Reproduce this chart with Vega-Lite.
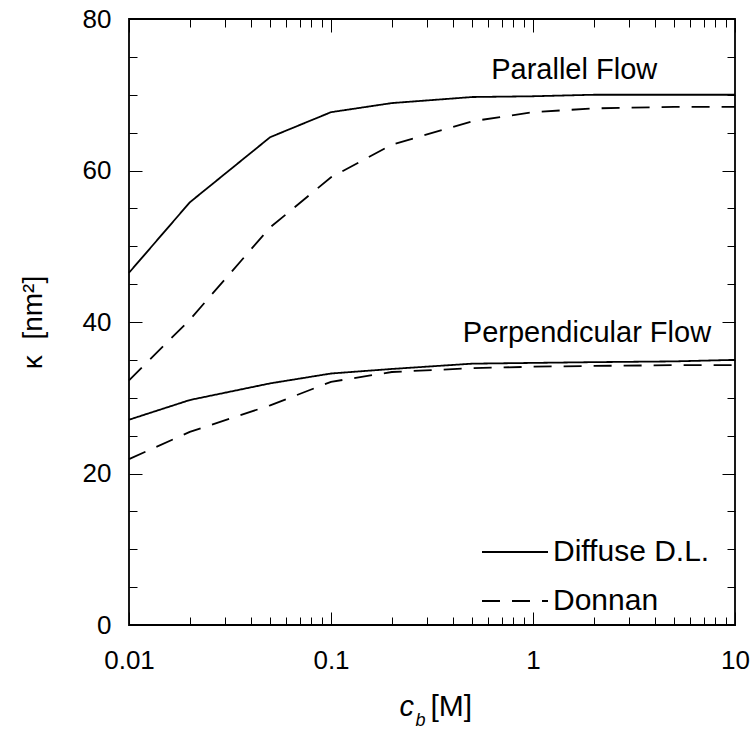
{
  "$schema": "https://vega.github.io/schema/vega-lite/v6.json",
  "width": 606,
  "height": 606,
  "autosize": {"type": "none"},
  "padding": {"left": 129, "top": 19, "right": 16, "bottom": 112},
  "background": "white",
  "config": {
    "font": "Liberation Sans",
    "view": {"stroke": "black", "strokeWidth": 1.8}
  },
  "data": {"values": [
    {"cb": 0.01, "kappa": 46.5, "flow": "Parallel", "model": "Diffuse D.L."},
    {"cb": 0.02, "kappa": 55.8, "flow": "Parallel", "model": "Diffuse D.L."},
    {"cb": 0.05, "kappa": 64.4, "flow": "Parallel", "model": "Diffuse D.L."},
    {"cb": 0.1, "kappa": 67.7, "flow": "Parallel", "model": "Diffuse D.L."},
    {"cb": 0.2, "kappa": 68.9, "flow": "Parallel", "model": "Diffuse D.L."},
    {"cb": 0.5, "kappa": 69.7, "flow": "Parallel", "model": "Diffuse D.L."},
    {"cb": 1, "kappa": 69.8, "flow": "Parallel", "model": "Diffuse D.L."},
    {"cb": 2, "kappa": 70.0, "flow": "Parallel", "model": "Diffuse D.L."},
    {"cb": 5, "kappa": 70.0, "flow": "Parallel", "model": "Diffuse D.L."},
    {"cb": 10, "kappa": 70.0, "flow": "Parallel", "model": "Diffuse D.L."},
    {"cb": 0.01, "kappa": 32.3, "flow": "Parallel", "model": "Donnan"},
    {"cb": 0.02, "kappa": 40.3, "flow": "Parallel", "model": "Donnan"},
    {"cb": 0.05, "kappa": 52.5, "flow": "Parallel", "model": "Donnan"},
    {"cb": 0.1, "kappa": 59.1, "flow": "Parallel", "model": "Donnan"},
    {"cb": 0.2, "kappa": 63.4, "flow": "Parallel", "model": "Donnan"},
    {"cb": 0.5, "kappa": 66.5, "flow": "Parallel", "model": "Donnan"},
    {"cb": 1, "kappa": 67.7, "flow": "Parallel", "model": "Donnan"},
    {"cb": 2, "kappa": 68.2, "flow": "Parallel", "model": "Donnan"},
    {"cb": 5, "kappa": 68.4, "flow": "Parallel", "model": "Donnan"},
    {"cb": 10, "kappa": 68.4, "flow": "Parallel", "model": "Donnan"},
    {"cb": 0.01, "kappa": 27.1, "flow": "Perpendicular", "model": "Diffuse D.L."},
    {"cb": 0.02, "kappa": 29.7, "flow": "Perpendicular", "model": "Diffuse D.L."},
    {"cb": 0.05, "kappa": 31.9, "flow": "Perpendicular", "model": "Diffuse D.L."},
    {"cb": 0.1, "kappa": 33.2, "flow": "Perpendicular", "model": "Diffuse D.L."},
    {"cb": 0.2, "kappa": 33.8, "flow": "Perpendicular", "model": "Diffuse D.L."},
    {"cb": 0.5, "kappa": 34.5, "flow": "Perpendicular", "model": "Diffuse D.L."},
    {"cb": 1, "kappa": 34.6, "flow": "Perpendicular", "model": "Diffuse D.L."},
    {"cb": 2, "kappa": 34.7, "flow": "Perpendicular", "model": "Diffuse D.L."},
    {"cb": 5, "kappa": 34.8, "flow": "Perpendicular", "model": "Diffuse D.L."},
    {"cb": 10, "kappa": 35.0, "flow": "Perpendicular", "model": "Diffuse D.L."},
    {"cb": 0.01, "kappa": 21.9, "flow": "Perpendicular", "model": "Donnan"},
    {"cb": 0.02, "kappa": 25.5, "flow": "Perpendicular", "model": "Donnan"},
    {"cb": 0.05, "kappa": 29.0, "flow": "Perpendicular", "model": "Donnan"},
    {"cb": 0.1, "kappa": 32.1, "flow": "Perpendicular", "model": "Donnan"},
    {"cb": 0.2, "kappa": 33.4, "flow": "Perpendicular", "model": "Donnan"},
    {"cb": 0.5, "kappa": 33.9, "flow": "Perpendicular", "model": "Donnan"},
    {"cb": 1, "kappa": 34.1, "flow": "Perpendicular", "model": "Donnan"},
    {"cb": 2, "kappa": 34.2, "flow": "Perpendicular", "model": "Donnan"},
    {"cb": 5, "kappa": 34.3, "flow": "Perpendicular", "model": "Donnan"},
    {"cb": 10, "kappa": 34.3, "flow": "Perpendicular", "model": "Donnan"}
  ]},
  "layer": [
    {
      "mark": {"type": "point", "opacity": 0},
      "encoding": {
        "x": {"field": "cb", "type": "quantitative",
              "scale": {"type": "log", "domain": [0.01, 10], "nice": false},
              "axis": {"orient": "bottom", "labels": false, "grid": false, "domainOpacity": 0, "offset": -8, "tickSize": 8, "tickColor": "black",
                       "values": [0.02,0.03,0.04,0.05,0.06,0.07,0.08,0.09,0.2,0.3,0.4,0.5,0.6,0.7,0.8,0.9,2,3,4,5,6,7,8,9],
                       "title": "c", "titleFontSize": 29, "titleFontStyle": "italic", "titleFontWeight": "normal", "titleColor": "black", "titleX": 270, "titleY": 98, "titleAlign": "left", "titleBaseline": "alphabetic"}},
        "y": {"field": "kappa", "type": "quantitative",
              "scale": {"domain": [0, 80], "nice": false},
              "axis": {"orient": "left", "labels": false, "grid": false, "domainOpacity": 0, "title": null, "offset": -8, "tickSize": 8, "tickColor": "black",
                       "values": [5,10,15,25,30,35,45,50,55,65,70,75]}}
      }
    },
    {
      "mark": {"type": "point", "opacity": 0},
      "encoding": {
        "x": {"field": "cb", "type": "quantitative",
              "scale": {"type": "log", "domain": [0.01, 10], "nice": false},
              "axis": {"orient": "bottom", "labels": false, "grid": false, "domainOpacity": 0, "offset": -13, "tickSize": 13, "tickColor": "black",
                       "values": [0.01, 0.1, 1, 10],
                       "title": "b", "titleFontSize": 18, "titleFontStyle": "italic", "titleFontWeight": "normal", "titleColor": "black", "titleX": 286, "titleY": 113, "titleAlign": "left", "titleBaseline": "alphabetic"}},
        "y": {"field": "kappa", "type": "quantitative",
              "scale": {"domain": [0, 80], "nice": false},
              "axis": {"orient": "left", "labels": false, "grid": false, "domainOpacity": 0, "title": null, "offset": -13, "tickSize": 13, "tickColor": "black",
                       "values": [0, 20, 40, 60, 80]}}
      }
    },
    {
      "mark": {"type": "point", "opacity": 0},
      "encoding": {
        "x": {"field": "cb", "type": "quantitative",
              "scale": {"type": "log", "domain": [0.01, 10], "nice": false},
              "axis": {"orient": "top", "labels": false, "grid": false, "domainOpacity": 0, "title": null, "offset": -8, "tickSize": 8, "tickColor": "black",
                       "values": [0.02,0.03,0.04,0.05,0.06,0.07,0.08,0.09,0.2,0.3,0.4,0.5,0.6,0.7,0.8,0.9,2,3,4,5,6,7,8,9]}},
        "y": {"field": "kappa", "type": "quantitative",
              "scale": {"domain": [0, 80], "nice": false},
              "axis": {"orient": "right", "labels": false, "grid": false, "domainOpacity": 0, "title": null, "offset": -8, "tickSize": 8, "tickColor": "black",
                       "values": [5,10,15,25,30,35,45,50,55,65,70,75]}}
      }
    },
    {
      "data": {"values": [
        {"label": "Parallel Flow", "cb": 1.6, "kappa": 72.1},
        {"label": "Perpendicular Flow", "cb": 1.85, "kappa": 37.4}
      ]},
      "mark": {"type": "text", "fontSize": 29, "color": "black", "align": "center", "baseline": "alphabetic"},
      "encoding": {
        "x": {"field": "cb", "type": "quantitative", "scale": {"type": "log", "domain": [0.01, 10], "nice": false},
              "axis": {"orient": "top", "labels": false, "grid": false, "domainOpacity": 0, "title": null, "offset": -13, "tickSize": 13, "tickColor": "black",
                       "values": [0.01, 0.1, 1, 10]}},
        "y": {"field": "kappa", "type": "quantitative", "scale": {"domain": [0, 80], "nice": false},
              "axis": {"orient": "right", "labels": false, "grid": false, "domainOpacity": 0, "title": null, "offset": -13, "tickSize": 13, "tickColor": "black",
                       "values": [0, 20, 40, 60, 80]}},
        "text": {"field": "label"}
      }
    },
    {
      "mark": {"type": "line", "color": "black", "strokeWidth": 1.8},
      "encoding": {
        "x": {"field": "cb", "type": "quantitative",
              "scale": {"type": "log", "domain": [0.01, 10], "nice": false},
              "axis": {"orient": "bottom", "values": [0.01, 0.1, 1, 10], "format": "~g", "ticks": false, "domain": false, "grid": false,
                       "labelFontSize": 26, "labelColor": "black", "labelPadding": 22, "labelFlush": false,
                       "title": "[M]", "titleFontSize": 30, "titleFontWeight": "normal", "titleColor": "black", "titleX": 301, "titleY": 90, "titleAlign": "left", "titleBaseline": "alphabetic"}},
        "y": {"field": "kappa", "type": "quantitative",
              "scale": {"domain": [0, 80], "nice": false},
              "axis": {"orient": "left", "values": [0, 20, 40, 60, 80], "ticks": false, "domain": false, "grid": false,
                       "labelFontSize": 26, "labelColor": "black", "labelPadding": 18, "labelFlush": false,
                       "title": "κ\u00a0\u00a0[nm²]", "titleFontSize": 28, "titleFontWeight": "normal", "titleColor": "black", "titleX": -96, "titleY": 303, "titleAlign": "center", "titleBaseline": "middle"}},
        "detail": {"field": "flow"},
        "strokeDash": {"field": "model", "type": "nominal",
                       "scale": {"domain": ["Diffuse D.L.", "Donnan"], "range": [[1, 0], [18, 12]]},
                       "legend": {"orient": "none", "legendX": 352, "legendY": 499, "title": null,
                                  "symbolType": "stroke", "symbolSize": 4356, "symbolStrokeWidth": 1.8, "symbolStrokeColor": "black",
                                  "labelFontSize": 30, "labelColor": "black", "labelOffset": 4, "rowPadding": -31}}
      }
    }
  ],
  "resolve": {"axis": {"x": "independent", "y": "independent"}}
}
